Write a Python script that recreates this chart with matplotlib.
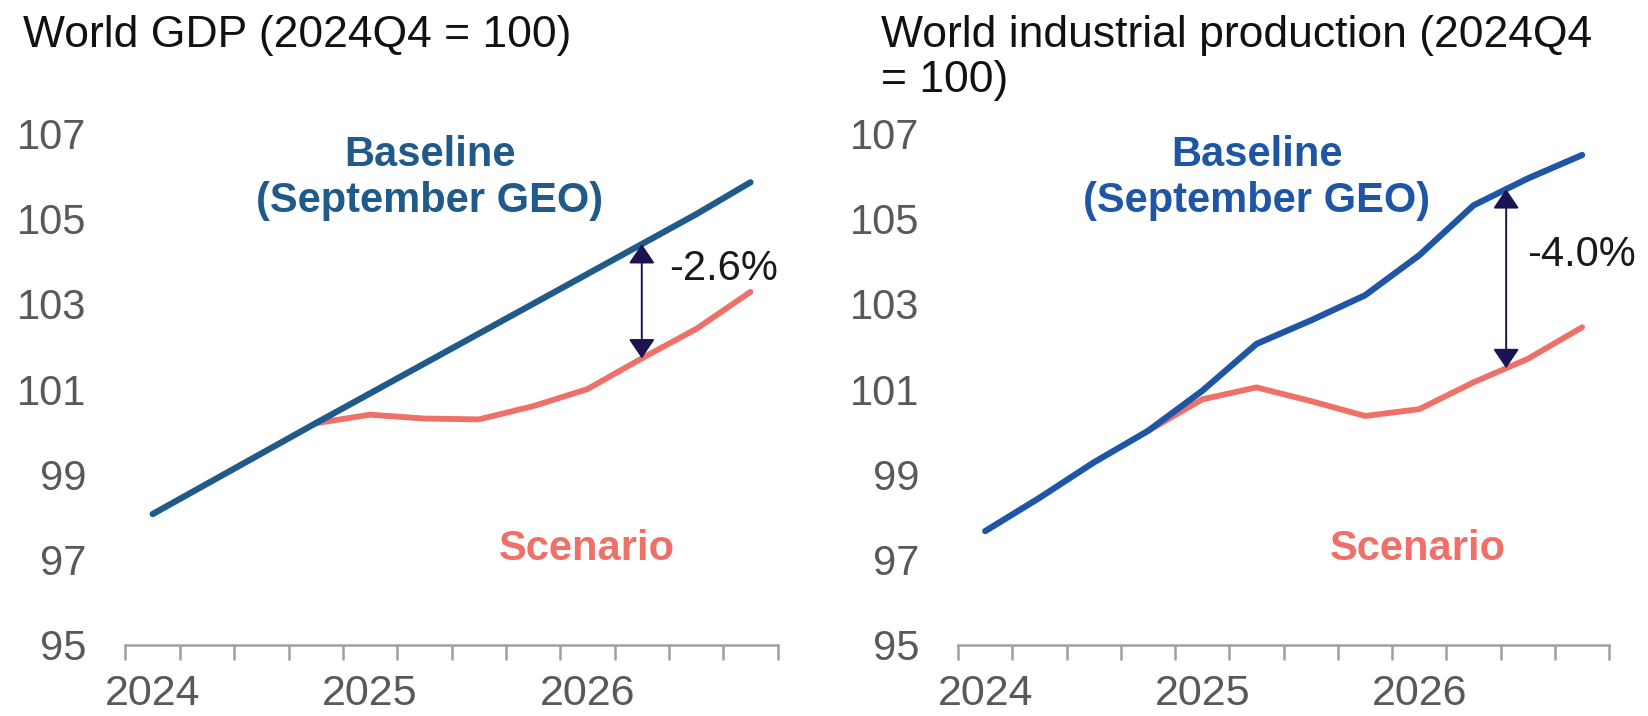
import numpy as np
import matplotlib

matplotlib.use("Agg")
import matplotlib.pyplot as plt

plt.rcParams["font.family"] = ["Liberation Sans", "DejaVu Sans"]

# quarterly index values, 2024Q1 .. 2026Q4
quarters = ["2024Q1", "2024Q2", "2024Q3", "2024Q4",
            "2025Q1", "2025Q2", "2025Q3", "2025Q4",
            "2026Q1", "2026Q2", "2026Q3", "2026Q4"]
year_labels = ["2024", "2025", "2026"]
year_pos = [0, 4, 8]

nan = np.nan
gdp_base = [98.07, 98.78, 99.49, 100.2, 100.9, 101.6, 102.3, 103.0, 103.7, 104.4, 105.1, 105.85]
gdp_scen = [nan, nan, nan, 100.2, 100.4, 100.31, 100.29, 100.6, 101.0, 101.72, 102.41, 103.28]
ip_base = [97.67, 98.45, 99.28, 100.02, 100.96, 102.06, 102.61, 103.2, 104.14, 105.31, 105.94, 106.49]
ip_scen = [nan, nan, nan, 100.02, 100.76, 101.04, 100.72, 100.37, 100.53, 101.16, 101.71, 102.45]

titles = ["World GDP (2024Q4 = 100)", "World industrial production (2024Q4\n= 100)"]
gap_labels = ["-2.6%", "-4.0%"]
gap_at = [9.0, 9.6]

GREY = "#595959"
RED = "#EE7068"
ARROW = "#1C1450"
base_colors = ["#1F5A8A", "#1F55A5"]

fig = plt.figure(figsize=(16.49, 7.16), dpi=100)
ax_l = fig.add_axes([0.0761, 0.0992, 0.3955, 0.7147])
ax_r = fig.add_axes([0.5810, 0.0992, 0.3949, 0.7147])

panels = [
    (ax_l, gdp_base, gdp_scen, base_colors[0], gap_labels[0], gap_at[0], (5.1, 9.5, 103.82)),
    (ax_r, ip_base, ip_scen, base_colors[1], gap_labels[1], gap_at[1], (5.0, 9.98, 104.14)),
]

x = np.arange(len(quarters))
for ax, base, scen, bcol, glabel, gx, (bx, tx, ty) in panels:
    ax.plot(x, scen, color=RED, lw=4.2, solid_capstyle="round", solid_joinstyle="round", zorder=2)
    ax.plot(x, base, color=bcol, lw=4.5, solid_capstyle="round", solid_joinstyle="round", zorder=3)

    # double-headed arrow between the two lines
    y_top = np.interp(gx, x, base)
    y_bot = np.interp(gx, x, np.nan_to_num(scen, nan=0.0))
    ax.annotate("", xy=(gx, y_bot), xytext=(gx, y_top),
                arrowprops=dict(arrowstyle="<|-|>,head_length=0.4,head_width=0.27",
                                color=ARROW, lw=1.4, shrinkA=0, shrinkB=0,
                                mutation_scale=30), zorder=4)
    ax.text(tx, ty, glabel, fontsize=30, color="#1a1a1a", ha="left", va="center")

    ax.text(bx, 105.95, "Baseline\n(September GEO)", fontsize=30, fontweight="bold",
            color=bcol, ha="center", va="center", linespacing=1.2)
    ax.text(7.98, 97.24, "Scenario", fontsize=30, fontweight="bold",
            color=RED, ha="center", va="center")

    ax.set_xlim(-0.5, 11.5)
    ax.set_ylim(95, 107)
    ax.set_yticks(np.arange(95, 108, 2))
    ax.tick_params(axis="y", length=0, pad=28, labelsize=30, labelcolor=GREY)

    ax.set_xticks(np.arange(-0.5, 12, 1))
    ax.set_xticklabels([])
    ax.set_xticks(year_pos, minor=True)
    ax.set_xticklabels(year_labels, minor=True)
    ax.tick_params(axis="x", which="major", length=11, width=1.8, color="#A0A0A0", direction="out")
    ax.tick_params(axis="x", which="minor", length=0, pad=21, labelsize=31, labelcolor=GREY)

    for s in ["top", "right", "left"]:
        ax.spines[s].set_visible(False)
    ax.spines["bottom"].set_color("#A0A0A0")
    ax.spines["bottom"].set_linewidth(1.8)

fig.text(0.0139, 0.979, titles[0], fontsize=32, ha="left", va="top", color="#111111")
fig.text(0.534, 0.979, titles[1], fontsize=32, ha="left", va="top", color="#111111",
         linespacing=1.12)

fig.savefig("out.png", dpi=100)
